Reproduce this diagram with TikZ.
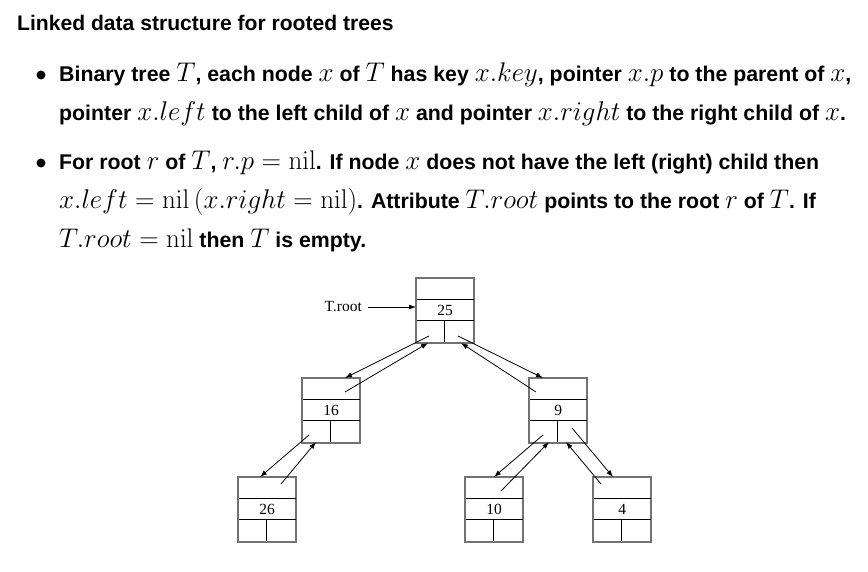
\RequirePackage{fix-cm}
\documentclass[tikz,border=0pt]{standalone}
\usepackage[no-math]{fontspec}
\setmainfont{Liberation Sans}
\newfontfamily\boxfont{Liberation Serif}
\DeclareMathSizes{21.3}{27}{18}{14}
\usetikzlibrary{arrows.meta,calc}
\begin{document}
\begin{tikzpicture}[x=1pt,y=-1pt,
  txt/.style={anchor=base west,inner sep=0pt,font=\fontsize{21.3}{24}\selectfont\bfseries},
  ttl/.style={anchor=base west,inner sep=0pt,font=\fontsize{21.1}{24}\selectfont\bfseries},
  rec/.style={draw=black!55,line width=1.4pt,minimum width=57pt,minimum height=64pt,anchor=north west,inner sep=0pt},
  inner/.style={draw=black,line width=0.9pt},
  ptr/.style={draw=black,line width=0.8pt,-{Latex[length=7pt,width=5pt]}},
  key/.style={font=\boxfont\fontsize{15.5}{17}\selectfont,inner sep=0pt}]
\useasboundingbox (0,0) rectangle (868,572);
\node[ttl] (title) at (17,31) {Linked data structure for rooted trees};
\fill (41,75) circle (4.5);
\node[txt] (l1) at (59,82) {Binary tree $T$, each node $x$ of $T$ has key $x.key$, pointer $x.p$ to the parent of $x$,};
\node[txt] (l2) at (59,121) {pointer $x.left$ to the left child of $x$ and pointer $x.right$ to the right child of $x$.};
\fill (41,163) circle (4.5);
\node[txt] (l3) at (59,170) {For root $r$ of $T$, $r.p=\mathrm{nil}$. If node $x$ does not have the left (right) child then};
\node[txt] (l4) at (59,209) {$x.left=\mathrm{nil}\,(x.right=\mathrm{nil})$. Attribute $T.root$ points to the root $r$ of $T$. If};
\node[txt] (l5) at (59,248) {$T.root=\mathrm{nil}$ then $T$ is empty.};

\newcommand{\tnode}[4]{%
  \node[rec] (#1) at (#2,#3) {};
  \draw[inner] ($(#1.north west)+(0,21.3)$) -- ($(#1.north east)+(0,21.3)$);
  \draw[inner] ($(#1.north west)+(0,42.6)$) -- ($(#1.north east)+(0,42.6)$);
  \draw[inner] ($(#1.north west)+(28,42.6)$) -- ($(#1.north west)+(28,64)$);
  \node[key] (#1k) at ($(#1.north)+(0,32)$) {#4};
  \draw[draw=black!55,line width=1.4pt] (#1.north west) rectangle (#1.south east);
}
\tnode{r}{416}{278}{25}
\tnode{a}{302}{378}{16}
\tnode{b}{529}{378}{9}
\tnode{c}{238}{477}{26}
\tnode{d}{465}{477}{10}
\tnode{e}{593}{477}{4}

\node[key,anchor=east] (troot) at (362,307) {T.root};
\draw[ptr] (troot.east) ++(6,0) -- (r.west |- troot.east);

\coordinate (rL) at (429,336); \coordinate (aT) at (345,378);
\coordinate (aP) at (345,392); \coordinate (rLi) at (428,343);
\coordinate (rR) at (458,336); \coordinate (bT) at (543,378);
\coordinate (bP) at (536,392); \coordinate (rRi) at (461,343);
\coordinate (aL) at (309,435); \coordinate (cT) at (260,477);
\coordinate (cP) at (281,484); \coordinate (aLi) at (316,442);
\coordinate (bL) at (543,435); \coordinate (dT) at (494,477);
\coordinate (dP) at (501,491); \coordinate (bLi) at (549,442);
\coordinate (bR) at (572,428); \coordinate (eT) at (613,477);
\coordinate (eP) at (601,484); \coordinate (bRi) at (566,442);
\draw[ptr] (rL) -- (aT);
\draw[ptr] (aP) -- (rLi);
\draw[ptr] (rR) -- (bT);
\draw[ptr] (bP) -- (rRi);
\draw[ptr] (aL) -- (cT);
\draw[ptr] (cP) -- (aLi);
\draw[ptr] (bL) -- (dT);
\draw[ptr] (dP) -- (bLi);
\draw[ptr] (bR) -- (eT);
\draw[ptr] (eP) -- (bRi);
\end{tikzpicture}
\end{document}
